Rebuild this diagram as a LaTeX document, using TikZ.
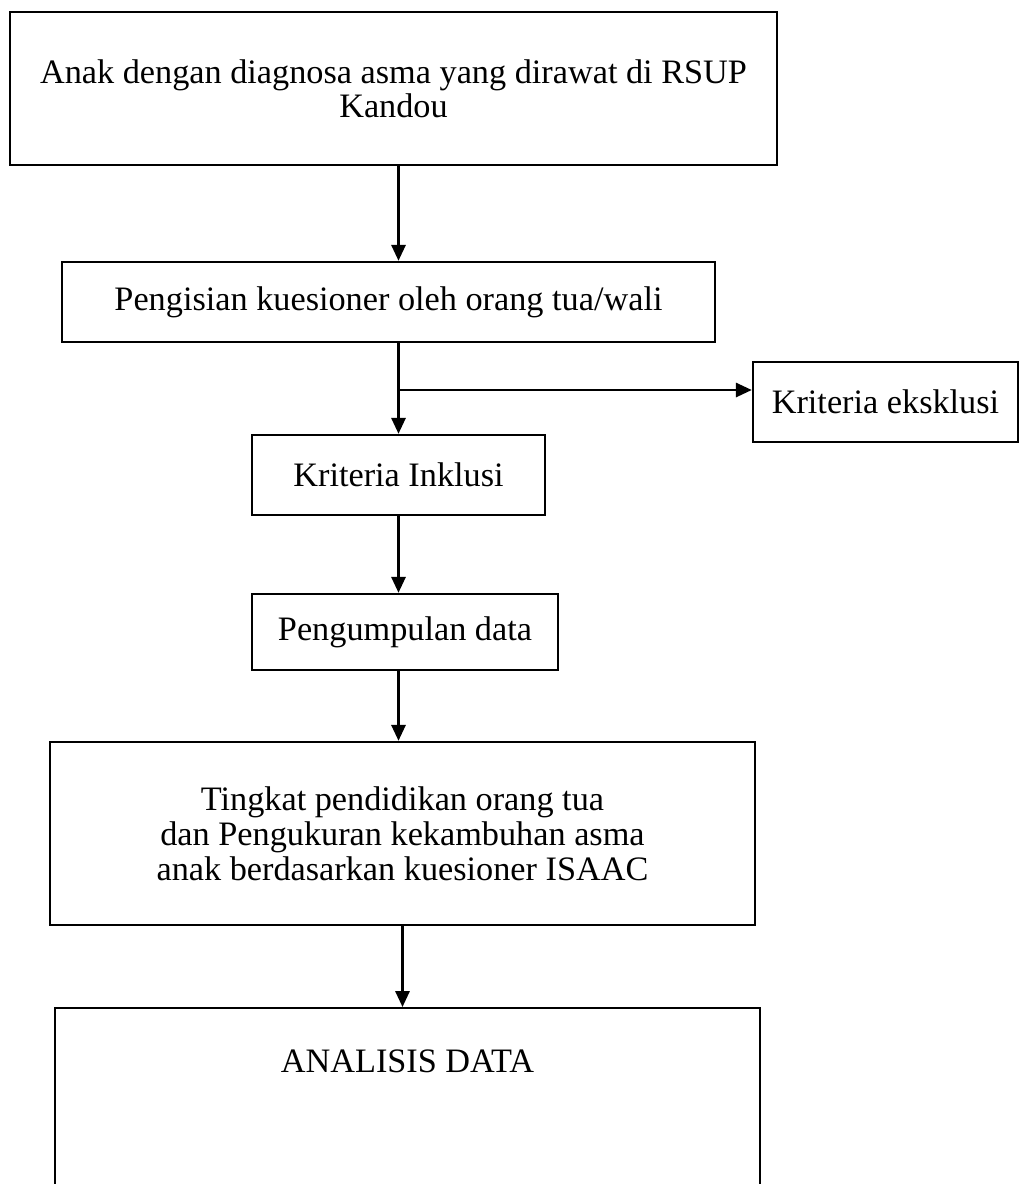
\documentclass[tikz,border=0pt]{standalone}
\usepackage{fontspec}
\setmainfont{Liberation Serif}
\usetikzlibrary{arrows.meta}

\begin{document}
\begin{tikzpicture}[x=0.02cm, y=-0.02cm,
    kotak/.style={draw, line width=1.4pt, align=center, inner sep=0pt,
        font=\fontsize{19.5}{19.5}\selectfont},
    panah/.style={line width=1.4pt, -{Triangle[width=8pt,length=9pt]}}
  ]
  \useasboundingbox (0,0) rectangle (1020,1184);
  \node[kotak, minimum width=15.34cm, minimum height=3.06cm] (anak) at (393.5,88.5) {Anak dengan diagnosa asma yang dirawat di RSUP\\Kandou};
  \node[kotak, minimum width=13.06cm, minimum height=1.6cm] (isi) at (388.5,302) {Pengisian kuesioner oleh orang tua/wali};
  \node[kotak, minimum width=5.3cm, minimum height=1.6cm] (eksklusi) at (885.5,402) {Kriteria eksklusi};
  \node[kotak, minimum width=5.86cm, minimum height=1.6cm] (inklusi) at (398.5,475) {Kriteria Inklusi};
  \node[kotak, minimum width=6.12cm, minimum height=1.52cm] (kumpul) at (405,632) {Pengumpulan data};
  \node[kotak, minimum width=14.1cm, minimum height=3.66cm, font=\fontsize{19.5}{20}\selectfont] (tingkat) at (402.5,833.5) {Tingkat pendidikan orang tua\\dan Pengukuran kekambuhan asma\\anak berdasarkan kuesioner ISAAC};
  \node[kotak, minimum width=14.1cm, text height=1.28cm, text depth=2.8cm, anchor=north] (analisis) at (407.5,1007) {ANALISIS DATA};
  \coordinate (cabang) at (398,390);
  \draw[panah] (anak.south -| inklusi.north) -- (isi.north -| inklusi.north);
  \draw[panah] (isi.south -| inklusi.north) -- (inklusi.north);
  \draw[panah] (cabang) -- (cabang -| eksklusi.west);
  \draw[panah] (inklusi.south) -- (inklusi.south |- kumpul.north);
  \draw[panah] (kumpul.south -| inklusi.south) -- (tingkat.north -| inklusi.south);
  \draw[panah] (tingkat.south) -- (tingkat.south |- analisis.north);
\end{tikzpicture}
\end{document}
